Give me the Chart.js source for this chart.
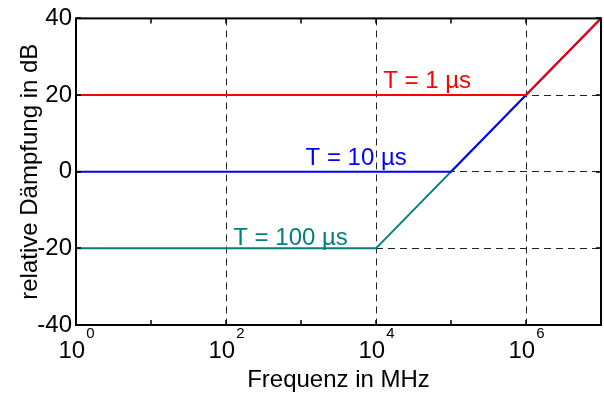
<!DOCTYPE html>
<html>
<head>
<meta charset="utf-8">
<script src="https://cdn.jsdelivr.net/npm/chart.js@4.4.1/dist/chart.umd.min.js"></script>
<style>
  body { margin: 0; background: #fff; }
  #wrap { width: 604px; height: 394px; }
</style>
</head>
<body>
<div id="wrap"><canvas id="daempfungChart" width="604" height="394"></canvas></div>
<script>
// Frequenz in MHz (Knickpunkte der Kurven)
const freq1us = [1, 1e6, 1e7];
const db1us = [20, 20, 40];
const freq10us = [1, 1e5, 1e7];
const db10us = [0, 0, 40];
const freq100us = [1, 1e4, 1e7];
const db100us = [-20, -20, 40];

const seriesNames = ['T = 1 µs', 'T = 10 µs', 'T = 100 µs'];
const xMajorTicks = [1, 1e2, 1e4, 1e6];
const xMinorTicks = [1e1, 1e3, 1e5];
const xTickExponents = ['0', '2', '4', '6'];
const yTicks = [-40, -20, 0, 20, 40];

const FONT = "'Liberation Sans', Arial, sans-serif";

function toPoints(xs, ys) {
    return xs.map((x, i) => ({ x: x, y: ys[i] }));
}

// where the series labels sit: x in MHz, on which level, pixels above the line
const labelSpots = [
    { x: 1.25e4, y: 20, dy: -7, color: '#ff0000' },
    { x: 1.15e3, y: 0, dy: -7, color: '#0000ff' },
    { x: 1.25e2, y: -20, dy: -3, color: '#008080' }
];

const extrasPlugin = {
    id: 'extras',
    afterDatasetsDraw(chart) {
        const ctx = chart.ctx;
        const area = chart.chartArea;
        const xs = chart.scales.x;
        const ys = chart.scales.y;
        ctx.save();

        // series labels
        ctx.font = '24px ' + FONT;
        ctx.textBaseline = 'alphabetic';
        ctx.textAlign = 'left';
        labelSpots.forEach((s, i) => {
            ctx.fillStyle = s.color;
            ctx.fillText(seriesNames[i], xs.getPixelForValue(s.x), ys.getPixelForValue(s.y) + s.dy);
        });

        // frame
        ctx.strokeStyle = '#000';
        ctx.lineWidth = 2;
        ctx.strokeRect(area.left, area.top, area.right - area.left, area.bottom - area.top);

        // inward ticks
        ctx.lineWidth = 1.5;
        ctx.beginPath();
        xMajorTicks.concat(xMinorTicks).forEach(v => {
            const px = Math.round(xs.getPixelForValue(v));
            ctx.moveTo(px, area.bottom);
            ctx.lineTo(px, area.bottom - 5);
            ctx.moveTo(px, area.top);
            ctx.lineTo(px, area.top + 5);
        });
        yTicks.forEach(v => {
            const py = Math.round(ys.getPixelForValue(v));
            ctx.moveTo(area.left, py);
            ctx.lineTo(area.left + 5, py);
            ctx.moveTo(area.right, py);
            ctx.lineTo(area.right - 5, py);
        });
        ctx.stroke();

        // x tick labels with exponent
        ctx.fillStyle = '#000';
        xMajorTicks.forEach((v, i) => {
            const px = xs.getPixelForValue(v);
            ctx.font = '24px ' + FONT;
            const wBase = ctx.measureText('10').width;
            ctx.font = '15px ' + FONT;
            const wExp = ctx.measureText(xTickExponents[i]).width;
            const start = px - (wBase + wExp) / 2;
            ctx.font = '24px ' + FONT;
            ctx.fillText('10', start, area.bottom + 33);
            ctx.font = '15px ' + FONT;
            ctx.fillText(xTickExponents[i], start + wBase + 1, area.bottom + 13);
        });

        // axis titles
        ctx.font = '24px ' + FONT;
        ctx.textAlign = 'center';
        ctx.fillText('Frequenz in MHz', (area.left + area.right) / 2, area.bottom + 62);
        ctx.translate(37, (area.top + area.bottom) / 2);
        ctx.rotate(-Math.PI / 2);
        ctx.fillText('relative Dämpfung in dB', 0, 0);
        ctx.restore();
    }
};

const ctx = document.getElementById('daempfungChart').getContext('2d');
const chart = new Chart(ctx, {
    type: 'line',
    data: {
        datasets: [
            {
                label: seriesNames[0],
                data: toPoints(freq1us, db1us),
                borderColor: '#ff0000',
                borderWidth: 2,
                pointRadius: 0,
                tension: 0
            },
            {
                label: seriesNames[1],
                data: toPoints(freq10us, db10us),
                borderColor: '#0000ff',
                borderWidth: 2,
                pointRadius: 0,
                tension: 0
            },
            {
                label: seriesNames[2],
                data: toPoints(freq100us, db100us),
                borderColor: '#008080',
                borderWidth: 2,
                pointRadius: 0,
                tension: 0
            }
        ]
    },
    options: {
        responsive: false,
        animation: false,
        devicePixelRatio: 1,
        layout: { padding: { top: 17, right: 3, left: 0, bottom: 0 } },
        plugins: {
            legend: { display: false },
            tooltip: { enabled: false }
        },
        scales: {
            x: {
                type: 'logarithmic',
                min: 1,
                max: 1e7,
                afterBuildTicks: function (scale) {
                    scale.ticks = xMajorTicks.concat([1e7]).map(v => ({ value: v }));
                },
                afterFit: function (scale) { scale.height = 69; },
                ticks: { display: false },
                grid: {
                    drawTicks: false,
                    lineWidth: 1,
                    color: function (c) {
                        if (c.tick && c.tick.value > 1 && c.tick.value < 1e7) return '#222';
                        return 'rgba(0,0,0,0)';
                    }
                },
                border: { display: false, dash: [7, 5] }
            },
            y: {
                min: -40,
                max: 40,
                afterBuildTicks: function (scale) {
                    scale.ticks = yTicks.map(v => ({ value: v }));
                },
                afterFit: function (scale) { scale.width = 76; },
                ticks: {
                    color: '#000',
                    font: { family: FONT, size: 24 },
                    padding: 4
                },
                grid: {
                    drawTicks: false,
                    lineWidth: 1,
                    color: function (c) {
                        if (c.tick && Math.abs(c.tick.value) < 40) return '#222';
                        return 'rgba(0,0,0,0)';
                    }
                },
                border: { display: false, dash: [7, 5] }
            }
        }
    },
    plugins: [extrasPlugin]
});
</script>
</body>
</html>
